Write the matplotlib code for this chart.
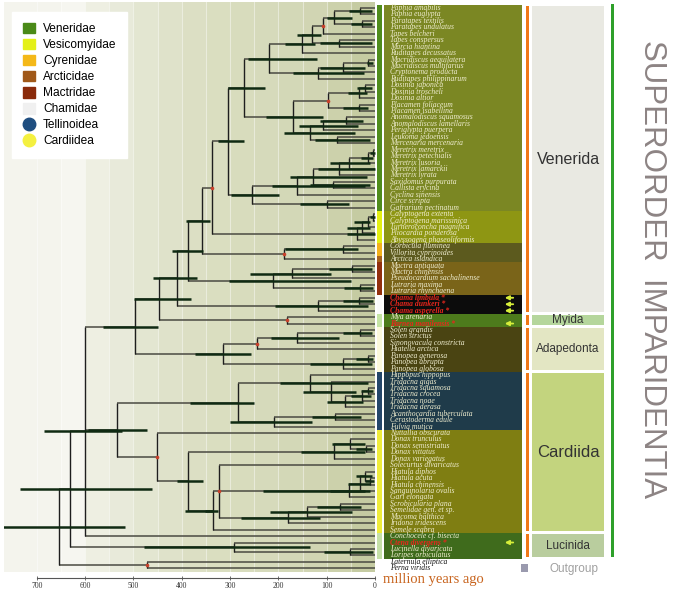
import matplotlib
matplotlib.use("Agg")
import matplotlib.pyplot as plt
from matplotlib.patches import Rectangle, Patch
from matplotlib.lines import Line2D

# ---------------------------------------------------------------------------
# Time tree (Newick, internal label = age/hpd_low/hpd_high, "age/r" = calibrated node)
# ---------------------------------------------------------------------------
PAPHIA = ("(((Paphia amabilis,Paphia euglypta)31/6/54,(Paratapes textilis,Paratapes undulatus)27/6/50)85/48/99,"
          "Tapes belcheri)108/r")
TAPES = f"(({PAPHIA},(Tapes conspersus,Marcia hiantina)75/6/114)130/112/161,Ruditapes decussatus)151/124/186"
RUDITAPES = ("(((Macridiscus aequilatera,Macridiscus multifarius)14/4/17,Cryptonema producta)66/21/114,"
             "Ruditapes philippinarum)118/23/170")
DOSINIA = ("((((Dosinia japonica,Dosinia troscheli)21/6/37,Dosinia altior)33/17/56,"
           "(Placamen foliaceum,Placamen isabellina)33/14/66)97/r,"
           "(((Anomalodiscus squamosus,Anomalodiscus lamellaris)60/25/114,Periglypta puerpera)108/35/157,"
           "(Leukoma jedoensis,Mercenaria mercenaria)79/10/124)135/41/188)170/108/226")
MERETRIX = ("((((((Meretrix meretrix,Meretrix petechialis)4/1/10,Meretrix lusoria)14/4/30,Meretrix lamarckii)54/10/93,"
            "Meretrix lyrata)75/0/118,(Saxidomus purpurata,Callista erycina)87/10/135)128/17/176,"
            "Cyclina sinensis)162/21/213")
VENERIDAE = (f"((({TAPES},{RUDITAPES})220/120/263,{DOSINIA})271/228/304,"
             f"({MERETRIX},(Circe scripta,Gafrarium pectinatum)99/54/155)255/199/298)304/271/325")
VESICOMYIDAE = ("((((Calyptogena extenta,Calyptogena marissinica)4/1/10,Turneroconcha magnifica)14/10/43,"
                "Pliocardia ponderosa)27/10/58,Abyssogena phaseoliformis)37/0/58")
CYRENIDAE = "((Corbicula fluminea,Villorita cyprinoides)66/35/186,Arctica islandica)188/r"
MACTRIDAE = ("(((Mactra antiquata,Mactra chinensis)48/6/95,Pseudocardium sachalinense)172/91/259,"
             "(Lutraria maxima,Lutraria rhynchaena)31/4/64)211/50/302")
CHAMIDAE = "((Chama limbula,Chama dunkeri)33/4/66,Chama asperella)118/14/207"
MYIDA = "(Mya arenaria,Barnea manilensis)182/r"
ADAPEDONTA = ("((((Solen grandis,Solen strictus)31/6/66,Sinonovacula constricta)162/75/215,Hiatella arctica)244/r,"
              "((Panopea generosa,Panopea abrupta)14/4/40,Panopea globosa)66/6/135)315/257/373")
CARDIIDAE = ("((Hippopus hippopus,(Tridacna gigas,(((Tridacna squamosa,Tridacna crocea)14/4/30,Tridacna noae)27/8/50,"
             "Tridacna derasa)62/25/100)91/40/150)135/14/197,"
             "((Acanthocardia tuberculata,Cerastoderma edule)83/30/130,Fulvia mutica)209/130/300)284/250/383")
DONAX = ("((Donax trunculus,(Donax semistriatus,Donax vittatus)19/6/40)52/20/90,Donax variegatus)85/21/153")
PSAMMOBIIDAE = ("(Solecurtus divaricatus,((((Hiatula diphos,(Hiatula acuta,Hiatula chinensis)10/2/20)21/6/40,"
                "Sanguinolaria ovalis)31/10/55,Gari elongata)54/21/93)118/10/232")
SEMELIDAE = ("(((Scrobicularia plana,Semelidae gen. et sp.)72/30/120,Macoma balthica)141/48/217,"
             "Iridona iridescens)180/114/277")
TELLINOIDEA = (f"(Nuttallia obscurata,({DONAX},(({PSAMMOBIIDAE},{SEMELIDAE})323/r,Semele scabra)335/325/352)"
               "356/335/393)387/356/410")
LUCINIDA = "(Ctena divergens,(Lucinella divaricata,Loripes orbiculatus)52/4/106)292/135/478"

VENERIDA = (f"((((({VENERIDAE},{VESICOMYIDAE})338/r,{CYRENIDAE})358/342/391,{MACTRIDAE})387/356/420,"
            f"{CHAMIDAE})410/369/460,{MYIDA})447/381/499")
TREE = (f"(((({VENERIDA},{ADAPEDONTA})497/449/563,({CARDIIDAE},{TELLINOIDEA})451/r)534/472/594,"
        f"Conchocele cf. bisecta)600/524/685,{LUCINIDA})632/462/735,"
        "(Laternula elliptica,Perna viridis)472/r)654/518/770")

# new sequences of this study (red labels, arrows)
STARRED = ["Chama limbula", "Chama dunkeri", "Chama asperella", "Barnea manilensis", "Ctena divergens"]
OUTGROUP = ["Laternula elliptica", "Perna viridis"]

# row ranges (0-based, inclusive) for the colour strip and label blocks
strip_rows = [(0, 31), (32, 36), (37, 38), (39, 39), (40, 44), (45, 47), (48, 49), (50, 56), (57, 65), (66, 81), (82, 85)]
strip_colors = ["#4f8c1c", "#e3ef14", "#f2b21c", "#a8621c", "#92300e", "#fafafa", "#c5e4a5", "#fcf9dc",
                "#24476a", "#efec3c", "#c5e0a8"]
block_rows = [(0, 31), (32, 36), (37, 39), (40, 44), (45, 47), (48, 49), (50, 56), (57, 65), (66, 81), (82, 85)]
block_colors = ["#7b8723", "#8e9613", "#5c5a1e", "#7a6419", "#0c0c0c", "#4d7b1c", "#4a4412", "#1f3b4a",
                "#7f7e12", "#3f6b1c"]

orders = ["Venerida", "Myida", "Adapedonta", "Cardiida", "Lucinida"]
order_rows = [(0, 47), (48, 49), (50, 56), (57, 81), (82, 85)]
order_colors = ["#e9e9e2", "#b5d69c", "#e3e6c3", "#c3d47e", "#b9cd9e"]
order_fs = [11.5, 8.5, 8.5, 12, 8.5]

legend_names = ["Veneridae", "Vesicomyidae", "Cyrenidae", "Arcticidae", "Mactridae", "Chamidae",
                "Tellinoidea", "Cardiidea"]
legend_colors = ["#4a8a18", "#e4f018", "#f4b818", "#a05818", "#8a2a0a", "#f0f0f0", "#1f4e80", "#f4f040"]
legend_marker = ["s", "s", "s", "s", "s", "s", "o", "o"]

time_ticks = [700, 600, 500, 400, 300, 200, 100, 0]
band_edges = [768, 700, 650, 600, 550, 500, 450, 400, 350, 300, 250, 200, 150, 100, 50, 0]
band_colors = ["#f4f4ed", "#f4f4ed", "#f6f6f0", "#eeefe2", "#e8eada", "#e3e6d1", "#dfe2ca", "#dcdfc4",
               "#dadec0", "#d8dcbd", "#d6dabb", "#d3d8b7", "#d1d5b3", "#ccd1ab", "#c5cba2"]


def parse_newick(s):
    pos = 0

    def read_label():
        nonlocal pos
        start = pos
        while pos < len(s) and s[pos] not in ",)":
            pos += 1
        return s[start:pos].strip()

    def node():
        nonlocal pos
        if s[pos] == "(":
            pos += 1
            kids = [node()]
            while s[pos] == ",":
                pos += 1
                kids.append(node())
            pos += 1  # ')'
            parts = read_label().split("/")
            red = parts[1] == "r"
            hpd = None if red else (float(parts[1]), float(parts[2]))
            return {"kids": kids, "age": float(parts[0]), "hpd": hpd, "red": red}
        return {"name": read_label(), "age": 0.0}

    return node()


def layout(nd, tips):
    if "kids" not in nd:
        nd["y"] = len(tips)
        tips.append(nd["name"])
        return
    for k in nd["kids"]:
        layout(k, tips)
    nd["y"] = 0.5 * (nd["kids"][0]["y"] + nd["kids"][-1]["y"])


def draw_tree(ax, nd):
    if "kids" not in nd:
        return
    ys = [k["y"] for k in nd["kids"]]
    ax.plot([nd["age"], nd["age"]], [min(ys), max(ys)], color="#1e1e1e", lw=1.0, zorder=3,
            solid_capstyle="butt")
    for k in nd["kids"]:
        ax.plot([nd["age"], k["age"]], [k["y"], k["y"]], color="#4a4a42", lw=1.1, zorder=2,
                solid_capstyle="butt")
        draw_tree(ax, k)
    if nd["hpd"] is not None:
        ax.plot(nd["hpd"], [nd["y"], nd["y"]], color="#0f2a12", lw=1.8, zorder=4, solid_capstyle="butt")
    if nd["red"]:
        ax.plot(nd["age"], nd["y"], "o", color="#c8402a", ms=2.6, mew=0, zorder=5)


tree = parse_newick(TREE)
taxa = []
layout(tree, taxa)

W, H = 676, 589
fig = plt.figure(figsize=(W / 100, H / 100), dpi=100)


def px_axes(x0, y0, x1, y1):
    return fig.add_axes([x0 / W, 1 - y1 / H, (x1 - x0) / W, (y1 - y0) / H])


ROW_TOP, ROW_BOTTOM = -0.93, 87.58

# --- tree panel -------------------------------------------------------------
ax = px_axes(4, 2, 376, 572)
ax.set_xlim(768, -2)
ax.set_ylim(ROW_BOTTOM, ROW_TOP)
ax.patch.set_alpha(0)
for i, c in enumerate(band_colors):
    ax.axvspan(band_edges[i], band_edges[i + 1], color=c, lw=0, zorder=0)
for e in band_edges[1:-1]:
    ax.axvline(e, color="white", lw=0.8, alpha=0.45, zorder=1)
draw_tree(ax, tree)

for sp in ["top", "left", "right"]:
    ax.spines[sp].set_visible(False)
ax.spines["bottom"].set_position(("outward", 4.3))
ax.spines["bottom"].set_bounds(700, 0)
ax.spines["bottom"].set_color("#555555")
ax.spines["bottom"].set_linewidth(0.8)
ax.set_yticks([])
ax.set_xticks(time_ticks)
ax.set_xticklabels([str(t) for t in time_ticks], fontsize=5.5, family="Liberation Serif", color="#333333")
ax.tick_params(axis="x", direction="inout", length=3, width=0.6, color="#555555", pad=1.2)

# --- labels + orders --------------------------------------------------------
side = px_axes(376, 2, 676, 572)
side.set_xlim(376, 676)
side.set_ylim(ROW_BOTTOM, ROW_TOP)
side.axis("off")

for (a, b), c in zip(strip_rows, strip_colors):
    side.add_patch(Rectangle((377, a - 0.5), 5.5, b - a + 1, color=c, lw=0))
for (a, b), c in zip(block_rows, block_colors):
    side.add_patch(Rectangle((384, a - 0.5), 137.5, b - a + 1, color=c, lw=0))

LABEL_FS = 5.5
for i, name in enumerate(taxa):
    if name in STARRED:
        side.text(390, i, name + " *", fontsize=LABEL_FS, family="Liberation Serif", style="italic",
                  weight="bold", color="#e8261c", va="center")
        side.annotate("", xy=(502, i), xytext=(516, i),
                      arrowprops=dict(arrowstyle="-|>", color="#d6ee3a", lw=1.3, mutation_scale=6))
    elif name in OUTGROUP:
        side.text(390, i, name, fontsize=LABEL_FS, family="Liberation Serif", style="italic",
                  color="#111111", va="center")
    else:
        side.text(390, i, name, fontsize=LABEL_FS, family="Liberation Serif", style="italic",
                  color="#efedcf", va="center")

for name, (a, b), c, fs in zip(orders, order_rows, order_colors, order_fs):
    top, bot = a - 0.5 + 0.25, b + 0.5 - 0.25
    side.add_patch(Rectangle((532, top), 72, bot - top, color=c, lw=0))
    side.add_patch(Rectangle((525.5, top), 3, bot - top, color="#f07818", lw=0))
    side.text(568, 0.5 * (a + b), name, fontsize=fs, family="Liberation Sans", color="#333333",
              ha="center", va="center")
side.add_patch(Rectangle((611, -0.6), 3, 85.9, color="#2ea02a", lw=0))
side.add_patch(Rectangle((521, 86.4), 6.5, 1.2, color="#9a9aae", lw=0))
side.text(550, 87.1, "Outgroup", fontsize=8.5, family="Liberation Sans", color="#a0a0a0", va="center")
side.text(652, 40.6, "SUPERORDER  IMPARIDENTIA", rotation=-90, fontsize=22.5, family="Liberation Sans",
          color="#8d8484", ha="center", va="center")

fig.text(383 / W, 1 - 580 / H, "million years ago", fontsize=10.5, family="Liberation Serif",
         color="#c8641e", va="center")

# --- legend -----------------------------------------------------------------
handles = []
for c, m in zip(legend_colors, legend_marker):
    if m == "s":
        handles.append(Patch(facecolor=c, edgecolor=c))
    else:
        handles.append(Line2D([], [], marker="o", linestyle="none", markersize=9,
                              markerfacecolor=c, markeredgecolor=c))
leg = fig.legend(handles, legend_names, loc="upper left", bbox_to_anchor=(12 / W, 1 - 12 / H),
                 prop={"family": "Liberation Sans", "size": 8.6}, frameon=True, fancybox=False,
                 facecolor="white", edgecolor="white", framealpha=1, handlelength=1.0, handleheight=1.0,
                 handletextpad=0.7, labelspacing=0.3, borderpad=0.9, borderaxespad=0)

fig.savefig("out.png", dpi=100)
